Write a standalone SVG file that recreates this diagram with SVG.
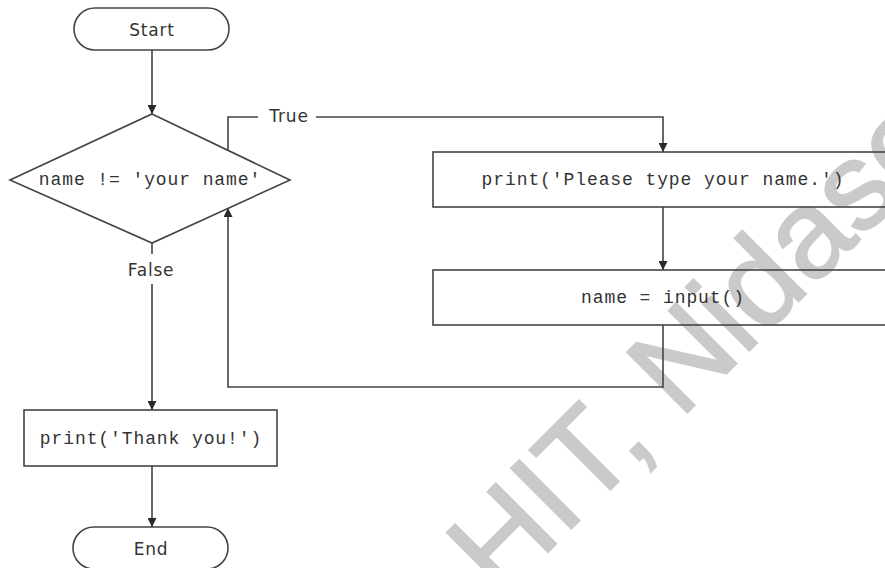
<svg xmlns="http://www.w3.org/2000/svg" width="885" height="568" viewBox="0 0 885 568">
<defs>
<marker id="arr" viewBox="0 0 10 10" refX="10" refY="5" markerWidth="9" markerHeight="9" markerUnits="userSpaceOnUse" orient="auto">
<path d="M0,0 L10,5 L0,10 Z" fill="#2a2a2a"/>
</marker>
<style>
.shape{fill:none;stroke:#444;stroke-width:1.6}
.line{fill:none;stroke:#444;stroke-width:1.6}
.mono{font-family:"Liberation Mono","DejaVu Sans Mono",monospace;font-size:18px;letter-spacing:0.9px;fill:#333;text-anchor:middle}
.sans{font-family:"DejaVu Sans","Liberation Sans",sans-serif;font-size:17px;fill:#333;text-anchor:middle;letter-spacing:0.8px}
.wm{font-family:"Liberation Sans",Arial,sans-serif;font-size:124px;fill:#cacaca;stroke:#cacaca;stroke-width:2}
</style>
</defs>
<rect width="885" height="568" fill="#fff"/>
<text class="wm" transform="translate(500,600) rotate(-45)">HIT, Nidasoshi</text>
<g id="start">
<rect class="shape" x="74" y="8" width="155" height="42" rx="21"/>
<text class="sans" x="152" y="36">Start</text>
</g>
<g id="decision">
<polygon class="shape" points="152,114 290,180 152,243 10,180"/>
<text class="mono" x="150" y="185">name != 'your name'</text>
</g>
<g id="print-please">
<rect class="shape" x="433" y="152" width="460" height="55"/>
<text class="mono" x="663" y="185">print('Please type your name.')</text>
</g>
<g id="input">
<rect class="shape" x="433" y="270" width="460" height="55"/>
<text class="mono" x="663" y="303">name = input()</text>
</g>
<g id="print-thanks">
<rect class="shape" x="24" y="410" width="253" height="56"/>
<text class="mono" x="151" y="444">print('Thank you!')</text>
</g>
<g id="end">
<rect class="shape" x="73" y="527" width="155" height="42" rx="21"/>
<text class="sans" x="151" y="555">End</text>
</g>
<g id="connectors">
<line class="line" x1="152" y1="50" x2="152" y2="114" marker-end="url(#arr)"/>
<polyline class="line" points="228,151 228,117 258,117"/>
<polyline class="line" points="316,117 663,117 663,152" marker-end="url(#arr)"/>
<text class="sans" x="289" y="122">True</text>
<line class="line" x1="663" y1="207" x2="663" y2="270" marker-end="url(#arr)"/>
<polyline class="line" points="663,325 663,387 228,387 228,208" marker-end="url(#arr)"/>
<line class="line" x1="152" y1="243" x2="152" y2="254"/>
<text class="sans" x="151" y="276">False</text>
<line class="line" x1="152" y1="284" x2="152" y2="410" marker-end="url(#arr)"/>
<line class="line" x1="152" y1="466" x2="152" y2="527" marker-end="url(#arr)"/>
</g>
</svg>
